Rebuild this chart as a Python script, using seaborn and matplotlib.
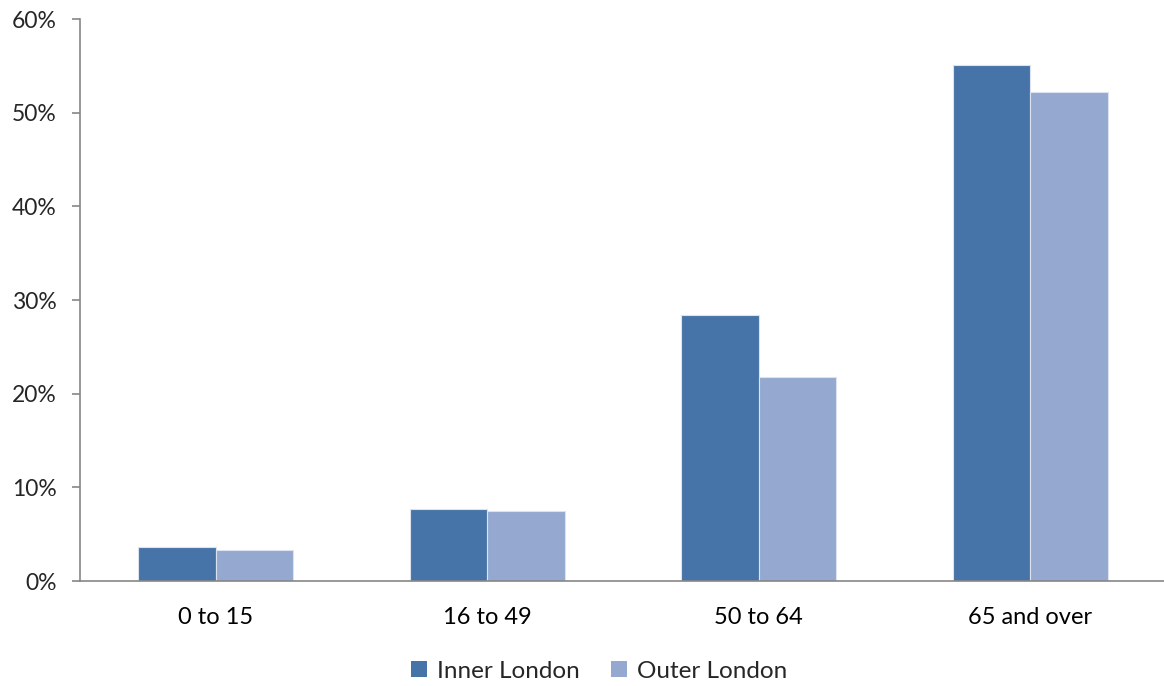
import matplotlib
matplotlib.use("Agg")
import matplotlib.pyplot as plt
import seaborn as sns
import pandas as pd
from matplotlib.ticker import FixedLocator, FuncFormatter
from matplotlib.patches import Patch

# Age bands and the share in each for Inner and Outer London
age_groups = ["0 to 15", "16 to 49", "50 to 64", "65 and over"]
inner_london = [3.6, 7.7, 28.4, 55.1]
outer_london = [3.3, 7.5, 21.8, 52.2]
series_names = ["Inner London", "Outer London"]
series_colors = ["#4674A8", "#95A9D0"]
y_ticks = [0, 10, 20, 30, 40, 50, 60]

df = pd.DataFrame({
    "age": age_groups * 2,
    "value": inner_london + outer_london,
    "area": [series_names[0]] * len(age_groups) + [series_names[1]] * len(age_groups),
})

sns.set_theme(style="white")
plt.rcParams["font.family"] = ["Lato", "DejaVu Sans"]

fig = plt.figure(figsize=(11.64, 6.86), dpi=100)
ax = fig.add_axes([80 / 1164, 1 - 581 / 686, (1166 - 80) / 1164, (581 - 19) / 686])

sns.barplot(
    data=df, x="age", y="value", hue="area",
    palette=series_colors, saturation=1, width=0.57, ax=ax,
    edgecolor="#dce3ef", linewidth=0.8, legend=False,
)

ax.set_xlim(-0.5, len(age_groups) - 0.5)
ax.set_ylim(0, 60)
ax.yaxis.set_major_locator(FixedLocator(y_ticks))
ax.yaxis.set_major_formatter(FuncFormatter(lambda v, p: f"{int(v)}%"))

# category labels without ticks; tick marks sit on the category boundaries
ax.tick_params(axis="x", which="major", length=0, pad=19, labelsize=17, colors="#000000")
ax.xaxis.set_minor_locator(FixedLocator([i - 0.5 for i in range(len(age_groups) + 1)]))
ax.tick_params(axis="x", which="minor", length=5.8, width=1.2, color="#868686", direction="out")
ax.tick_params(axis="y", which="major", length=5.8, width=1.2, color="#868686",
               direction="out", labelsize=16.5, pad=11, left=True)

for side in ["top", "right"]:
    ax.spines[side].set_visible(False)
for side in ["left", "bottom"]:
    ax.spines[side].set_color("#868686")
    ax.spines[side].set_linewidth(1.2)

ax.set_xlabel("")
ax.set_ylabel("")
ax.grid(False)

handles = [Patch(facecolor=c, edgecolor="none") for c in series_colors]
fig.legend(
    handles, series_names, loc="center", bbox_to_anchor=(599 / 1164, 1 - 671 / 686),
    ncol=2, frameon=False, fontsize=17.5, handlelength=0.65, handleheight=0.65,
    handletextpad=0.4, columnspacing=1.3,
)

fig.savefig("out.png", dpi=100, facecolor="white")
